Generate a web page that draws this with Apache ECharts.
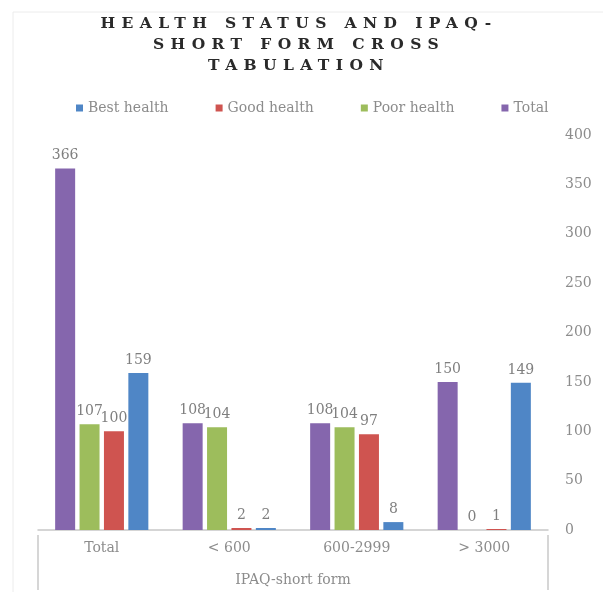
<!DOCTYPE html>
<html>
<head>
<meta charset="utf-8">
<title>Health status and IPAQ-short form cross tabulation</title>
<script src="https://cdn.jsdelivr.net/npm/echarts@6/dist/echarts.min.js"></script>
<style>
	html, body {
		margin: 0;
		padding: 0;
		background: #fff;
	}
	.wrap {
		position: relative;
		width: 603px;
		height: 592px;
	}
	#chart {
		width: 603px;
		height: 592px;
	}
	.chart_title {
		position: absolute;
		left: 0;
		top: 12px;
		width: 598px;
		text-align: center;
		font-family: "DejaVu Serif", serif;
		font-weight: bold;
		font-size: 15.5px;
		line-height: 21px;
		letter-spacing: 6.4px;
		color: #2a2a2a;
	}
</style>
</head>
<body>
<div class="wrap">
	<div id="chart"></div>
	<div class="chart_title">HEALTH STATUS AND IPAQ-<br>SHORT FORM CROSS<br>TABULATION</div>
</div>
<script>
	// categories on the x axis
	var categories = ['Total', '< 600', '600-2999', '> 3000']
	// series values, in the order the bars are drawn in each group
	var totalList = [366, 108, 108, 150]
	var poorList = [107, 104, 104, 0]
	var goodList = [100, 2, 97, 1]
	var bestList = [159, 2, 8, 149]
	// legend order as shown on top
	var legendNames = ['Best health', 'Good health', 'Poor health', 'Total']
	// y axis ticks
	var yMin = 0
	var yMax = 400
	var yStep = 50

	var serif = '"DejaVu Serif", serif'
	var chart = echarts.init(document.getElementById('chart'))

	function barSeries(name, data, color) {
		return {
			name: name,
			type: 'bar',
			barWidth: 20,
			barGap: '22%',
			data: data,
			itemStyle: {
				color: color
			},
			label: {
				show: true,
				position: 'top',
				distance: 6,
				color: '#7f7f7f',
				fontFamily: serif,
				fontSize: 14
			}
		}
	}

	var option = {
		animation: false,
		legend: {
			data: legendNames,
			top: 96,
			left: 71,
			itemWidth: 7,
			itemHeight: 7,
			itemGap: 47,
			icon: 'rect',
			textStyle: {
				color: '#8c8c8c',
				fontFamily: serif,
				fontSize: 14
			}
		},
		grid: {
			left: 38,
			right: 55,
			top: 135,
			bottom: 57
		},
		xAxis: {
			type: 'category',
			data: categories,
			name: 'IPAQ-short form',
			nameLocation: 'middle',
			nameGap: 43,
			nameTextStyle: {
				color: '#8c8c8c',
				fontFamily: serif,
				fontSize: 14
			},
			axisLine: {
				lineStyle: {
					color: '#c8c8c8',
					width: 1.5
				}
			},
			axisTick: {
				show: false
			},
			axisLabel: {
				color: '#8c8c8c',
				fontFamily: serif,
				fontSize: 14,
				margin: 11
			}
		},
		yAxis: {
			type: 'value',
			position: 'right',
			min: yMin,
			max: yMax,
			interval: yStep,
			axisLine: {
				show: false
			},
			axisTick: {
				show: false
			},
			splitLine: {
				show: false
			},
			axisLabel: {
				color: '#8c8c8c',
				fontFamily: serif,
				fontSize: 14,
				margin: 17
			}
		},
		graphic: [
			// the box lines round the category labels
			{
				type: 'line',
				shape: { x1: 38, y1: 535, x2: 38, y2: 590 },
				style: { stroke: '#c8c8c8', lineWidth: 1.5 }
			},
			{
				type: 'line',
				shape: { x1: 548, y1: 535, x2: 548, y2: 590 },
				style: { stroke: '#c8c8c8', lineWidth: 1.5 }
			},
			// faint chart border
			{
				type: 'rect',
				shape: { x: 13, y: 12, width: 600, height: 600 },
				style: { fill: 'none', stroke: '#ececec', lineWidth: 1 }
			}
		],
		series: [
			barSeries('Total', totalList, '#8566ad'),
			barSeries('Poor health', poorList, '#9dbd5c'),
			barSeries('Good health', goodList, '#cf5450'),
			barSeries('Best health', bestList, '#4f86c6')
		]
	}

	chart.setOption(option)
</script>
</body>
</html>
